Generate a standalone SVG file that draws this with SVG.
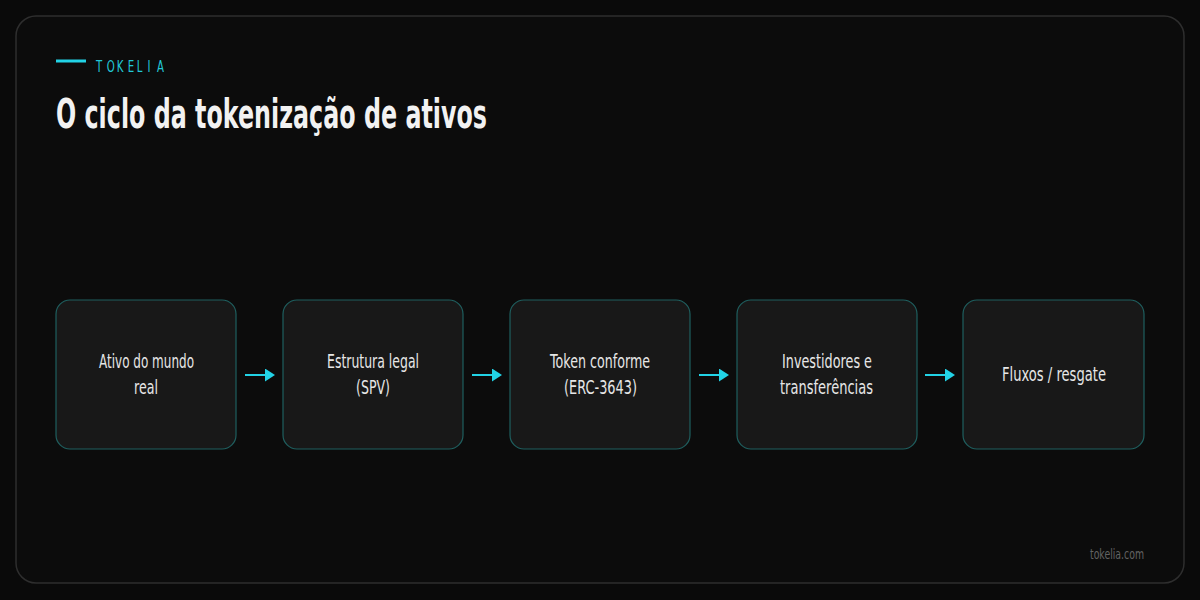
<svg xmlns="http://www.w3.org/2000/svg" width="1200" height="600" viewBox="0 0 1200 600">
<defs>
<style>
.bg{fill:#0a0a0a}
.frame{fill:#0c0c0c;stroke:#2e2e2e;stroke-width:1.5}
.node rect{fill:#181818;stroke:#1f5f5f;stroke-width:1.2}
.node text{fill:#e6e6e6;font-family:"DejaVu Sans",sans-serif;font-size:19px;text-anchor:middle}
.conn line{stroke:#22d3e6;stroke-width:2}
.brand{fill:#22c8d8;font-family:"DejaVu Sans",sans-serif;font-size:15px}
.title{fill:#f2f2f2;font-family:"DejaVu Sans",sans-serif;font-weight:bold;font-size:41px}
.foot{fill:#626262;font-family:"DejaVu Sans",sans-serif;font-size:14px}
</style>
<marker id="ah" markerWidth="10" markerHeight="13" refX="0" refY="6.5" orient="auto" markerUnits="userSpaceOnUse">
<path d="M0,0 L10,6.5 L0,13 Z" fill="#22d3e6"/>
</marker>
</defs>
<rect class="bg" x="0" y="0" width="1200" height="600"/>
<rect class="frame" x="16" y="16" width="1168" height="567" rx="20"/>
<g id="header">
<line x1="56" y1="61" x2="86" y2="61" stroke="#22d3e6" stroke-width="3"/>
<text class="brand" transform="translate(96,72) scale(0.68,1)" x="0 15.9 30.6 46.8 60 75.6 89.7" y="0">TOKELIA</text>
<text class="title" x="56" y="128" textLength="431" lengthAdjust="spacingAndGlyphs">O ciclo da tokenização de ativos</text>
</g>
<g id="connectors" class="conn">
<line x1="245" y1="375" x2="265" y2="375" marker-end="url(#ah)"/>
<line x1="472" y1="375" x2="492" y2="375" marker-end="url(#ah)"/>
<line x1="699" y1="375" x2="719" y2="375" marker-end="url(#ah)"/>
<line x1="925" y1="375" x2="945" y2="375" marker-end="url(#ah)"/>
</g>
<g id="n1" class="node"><rect x="56" y="300" width="180" height="149" rx="14"/><text x="146.5" y="368" textLength="95" lengthAdjust="spacingAndGlyphs">Ativo do mundo</text><text x="146" y="394" textLength="24" lengthAdjust="spacingAndGlyphs">real</text></g>
<g id="n2" class="node"><rect x="283" y="300" width="180" height="149" rx="14"/><text x="373" y="368" textLength="92" lengthAdjust="spacingAndGlyphs">Estrutura legal</text><text x="373" y="394" textLength="34" lengthAdjust="spacingAndGlyphs">(SPV)</text></g>
<g id="n3" class="node"><rect x="510" y="300" width="180" height="149" rx="14"/><text x="600" y="368" textLength="100" lengthAdjust="spacingAndGlyphs">Token conforme</text><text x="600.5" y="394" textLength="73" lengthAdjust="spacingAndGlyphs">(ERC-3643)</text></g>
<g id="n4" class="node"><rect x="737" y="300" width="180" height="149" rx="14"/><text x="827" y="368" textLength="90" lengthAdjust="spacingAndGlyphs">Investidores e</text><text x="826.5" y="394" textLength="93" lengthAdjust="spacingAndGlyphs">transferências</text></g>
<g id="n5" class="node"><rect x="963" y="300" width="181" height="149" rx="14"/><text x="1054" y="381" textLength="104" lengthAdjust="spacingAndGlyphs">Fluxos / resgate</text></g>
<text class="foot" x="1090" y="559" textLength="54" lengthAdjust="spacingAndGlyphs">tokelia.com</text>
</svg>
